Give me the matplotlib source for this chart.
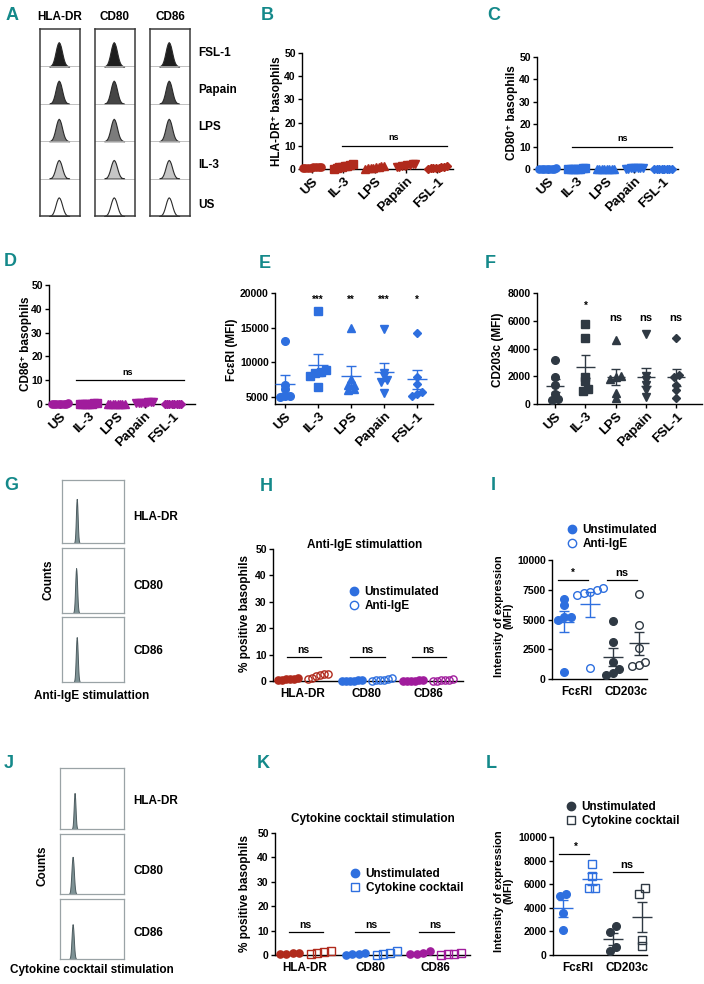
import numpy as np
import matplotlib
matplotlib.use('Agg')
import matplotlib.pyplot as plt
from matplotlib.lines import Line2D

plt.rcParams['font.family'] = ['Liberation Sans', 'DejaVu Sans']
plt.rcParams['font.weight'] = 'bold'
plt.rcParams['axes.labelweight'] = 'bold'
plt.rcParams['axes.linewidth'] = 1.0
plt.rcParams['xtick.major.size'] = 3
plt.rcParams['ytick.major.size'] = 3
plt.rcParams['xtick.major.pad'] = 1.5
plt.rcParams['ytick.major.pad'] = 1.5

W, H = 704, 984
RED = '#b02a1c'
BLUE = '#2e6fdf'
MAG = '#a01c9c'
DARK = '#2f3943'
TEAL = '#14898a'

# ---- data ----
conditions = ['US', 'IL-3', 'LPS', 'Papain', 'FSL-1']
cond_markers = ['o', 's', '^', 'v', 'D']

# panel A histograms (rows top to bottom)
hist_rows = ['FSL-1', 'Papain', 'LPS', 'IL-3', 'US']
hist_fill = ['#1e1e1e', '#454545', '#7b7b7b', '#c6c6c6', '#ffffff']
hist_height = [0.65, 0.62, 0.60, 0.50, 0.50]
hist_cols = ['HLA-DR', 'CD80', 'CD86']
peak_profile = [0, 2, 5, 11, 22, 38, 58, 78, 93, 100, 95, 82, 63, 43, 26, 14, 7, 3, 1, 0]

# B, C, D: % positive basophils
hladr_pct = [[0.3, 0.5, 0.6, 0.8, 1.0, 0.7, 0.4, 0.9],
             [0.2, 0.5, 0.9, 1.3, 1.8, 2.0, 1.1, 0.7],
             [0.1, 0.3, 0.6, 1.0, 1.5, 0.8, 0.4, 1.2],
             [0.8, 1.2, 1.6, 2.0, 2.3, 1.5, 1.0, 1.9],
             [0.2, 0.4, 0.6, 0.9, 1.1, 0.7, 0.5, 0.3]]
cd80_pct = [[0.0, 0.1, 0.2, 0.05, 0.3, 0.1, 0.0, 0.15],
            [0.0, 0.1, 0.3, 0.2, 0.4, 0.1, 0.0, 0.2],
            [0.0, 0.05, 0.1, 0.2, 0.0, 0.1, 0.05, 0.15],
            [0.2, 0.3, 0.4, 0.3, 0.5, 0.2, 0.4, 0.3],
            [0.0, 0.1, 0.2, 0.1, 0.0, 0.2, 0.1, 0.05]]
cd86_pct = [[0.0, 0.1, 0.2, 0.1, 0.3, 0.0, 0.2, 0.1],
            [0.0, 0.1, 0.3, 0.2, 0.4, 0.1, 0.2, 0.0],
            [0.0, 0.05, 0.1, 0.2, 0.0, 0.1, 0.05, 0.15],
            [0.4, 0.6, 0.7, 0.5, 0.8, 0.6, 0.7, 0.5],
            [0.0, 0.1, 0.2, 0.1, 0.0, 0.2, 0.1, 0.05]]

# E, F: MFI
fceri_mfi = [[13100, 6700, 6200, 5100, 4950, 5100],
             [17400, 8900, 8600, 8400, 8100, 6450],
             [15000, 7600, 6800, 6750, 6000, 6200],
             [14800, 8500, 8000, 7500, 7200, 5600],
             [14200, 7900, 6900, 5700, 5500, 5150]]
fceri_sig = ['***', '**', '***', '*']
cd203c_mfi = [[3180, 1975, 1370, 720, 340, 290],
              [5780, 4750, 1950, 1650, 950, 1050],
              [4580, 2000, 1950, 1820, 820, 400],
              [5040, 2000, 1700, 1340, 1010, 480],
              [4750, 2100, 1950, 1370, 1010, 410]]
cd203c_sig = ['*', 'ns', 'ns', 'ns']

# G, J histograms
stim_markers = ['HLA-DR', 'CD80', 'CD86']
g_peak_pos = [0.24, 0.23, 0.24]
g_peak_h = [0.70, 0.69, 0.69]
g_peak_w = [0.045, 0.05, 0.05]
j_peak_pos = [0.23, 0.20, 0.20]
j_peak_h = [0.59, 0.62, 0.58]
j_peak_w = [0.045, 0.06, 0.055]

# H: anti-IgE, % positive
pair_colors = [RED, BLUE, MAG]
ige_unstim = [[0.3, 0.6, 0.8, 1.0, 0.5, 0.7],
              [0.0, 0.1, 0.2, 0.1, 0.0, 0.3],
              [0.0, 0.1, 0.2, 0.0, 0.1, 0.2]]
ige_stim = [[2.5, 2.8, 1.9, 1.2, 0.6, 2.2],
            [0.0, 0.3, 0.6, 1.0, 0.2, 0.4],
            [0.0, 0.3, 0.5, 0.7, 0.2, 0.1]]

# I: anti-IgE, MFI
expr_labels = ['FcεRI', 'CD203c']
expr_colors = [BLUE, DARK]
ige_mfi_unstim = [[6720, 6220, 5240, 5200, 4950, 620],
                  [4900, 3140, 1460, 810, 530, 340]]
ige_mfi_stim = [[7620, 7480, 7200, 7340, 7060, 900],
                [7120, 4540, 2580, 1460, 1180, 1090]]
ige_mfi_sig = ['*', 'ns']

# K: cytokine cocktail, % positive
cyt_unstim = [[0.6, 1.0, 0.8, 0.5],
              [0.3, 0.8, 0.2, 0.5],
              [0.5, 1.6, 0.3, 0.8]]
cyt_stim = [[0.5, 1.0, 1.8, 1.4],
            [0.2, 1.0, 0.6, 1.5],
            [0.3, 0.9, 0.1, 0.6]]

# L: cytokine cocktail, MFI
cyt_mfi_unstim = [[5030, 5200, 3560, 2090],
                  [2430, 1980, 680, 310]]
cyt_mfi_stim = [[7740, 6720, 5680, 5680],
                [5680, 5200, 1240, 730]]

fig = plt.figure(figsize=(W / 100, H / 100), dpi=100)


def px_axes(x0, y0, x1, y1):
    return fig.add_axes([x0 / W, 1 - y1 / H, (x1 - x0) / W, (y1 - y0) / H])


def ftext(x, y, s, **kw):
    return fig.text(x / W, 1 - y / H, s, **kw)


def panel_label(x, y, s):
    ftext(x, y, s, color=TEAL, fontsize=13, ha='center', va='center')


def swarm(vals, step, tol):
    vals = np.asarray(vals, float)
    order = np.argsort(vals)
    offs = np.zeros(len(vals))
    groups, cur = [], [order[0]]
    for i in order[1:]:
        if vals[i] - vals[cur[-1]] < tol:
            cur.append(i)
        else:
            groups.append(cur)
            cur = [i]
    groups.append(cur)
    for g in groups:
        k = len(g)
        offs[g] = (np.arange(k) - (k - 1) / 2) * step
    return offs


def mean_sem(ax, x, vals, color, half=0.3, cap=0.15, lw=1.0):
    v = np.asarray(vals, float)
    m = v.mean()
    s = v.std(ddof=1) / np.sqrt(len(v))
    kw = dict(color=color, lw=lw, clip_on=False, zorder=4)
    ax.hlines(m, x - half, x + half, **kw)
    ax.vlines(x, m - s, m + s, **kw)
    ax.hlines([m - s, m + s], x - cap, x + cap, **kw)


def style(ax):
    for s in ['top', 'right']:
        ax.spines[s].set_visible(False)
    ax.tick_params(labelsize=7.5, width=1, length=3)


def cond_panel(box, data, color, ylim, yticks, xlim, step, tol, ms):
    ax = px_axes(*box)
    for i, (vals, mk) in enumerate(zip(data, cond_markers)):
        off = swarm(vals, step, tol)
        ax.plot(i + off, vals, ls='none', marker=mk, color=color,
                ms=ms * (0.8 if mk == 'D' else 1), clip_on=False, zorder=3)
        mean_sem(ax, i, vals, color)
    ax.set_xlim(xlim)
    ax.set_ylim(ylim)
    ax.set_yticks(yticks)
    ax.set_xticks(range(len(conditions)))
    ax.set_xticklabels(conditions, rotation=45, ha='right',
                       rotation_mode='anchor', fontsize=9.5)
    style(ax)
    ax.tick_params(axis='x', labelsize=9.5)
    return ax


def flow_box(box, pos, h, w):
    ax = px_axes(*box)
    xs = pos + np.linspace(-w, w, len(peak_profile))
    ys = h * np.array(peak_profile) / 100
    ax.fill_between(xs, 0, ys, color='#7f9396', ec='#4d5c60', lw=0.7)
    ax.set_xlim(0, 1)
    ax.set_ylim(0, 1)
    ax.set_xticks([])
    ax.set_yticks([])
    for s in ax.spines.values():
        s.set_color('#9aa3a6')
        s.set_linewidth(0.9)


def pair_panel(box, centers, off, un, st, colors, open_mk, xlim, step, tol, ms):
    ax = px_axes(*box)
    for c, u, s, col in zip(centers, un, st, colors):
        ax.plot(c - off + swarm(u, step, tol), u, ls='none', marker='o',
                color=col, ms=ms, clip_on=False, zorder=3)
        ax.plot(c + off + swarm(s, step, tol), s, ls='none', marker=open_mk,
                mfc='none', mec=col, mew=1.0, ms=ms, clip_on=False, zorder=3)
    ax.set_xlim(xlim)
    style(ax)
    ax.tick_params(axis='x', length=0, labelsize=8.5, pad=5)
    ax.set_xticks(centers)
    return ax


# ---- A ----
panel_label(12, 15, 'A')
col_boxes = [(40, 80), (95, 135), (150, 190)]
for name, (x0, x1) in zip(hist_cols, col_boxes):
    ax = px_axes(x0, 29, x1, 216)
    for i, (fc, hh) in enumerate(zip(hist_fill, hist_height)):
        base = 4 - i
        xs = 0.47 + np.linspace(-0.24, 0.26, len(peak_profile))
        ys = base + hh * np.array(peak_profile) / 100
        ax.fill_between(xs, base, ys, color=fc, ec='#2a2a2a', lw=0.8)
        if i < 4:
            ax.axhline(base, color='#b5b5b5', lw=0.6)
    ax.set_xlim(0, 1)
    ax.set_ylim(0, 5)
    ax.set_xticks([])
    ax.set_yticks([])
    for s in ax.spines.values():
        s.set_color('#3a3a3a')
        s.set_linewidth(1.1)
    ftext((x0 + x1) / 2, 17, name, fontsize=8.5, ha='center', va='center')
for name, y in zip(hist_rows, [53, 90, 127, 165, 205]):
    ftext(198, y, name, fontsize=8.5, ha='left', va='center')

# ---- B ----
panel_label(267, 16, 'B')
ax = cond_panel((302, 53, 453, 169), hladr_pct, RED, (0, 50), range(0, 51, 10),
                (-0.32, 4.5), 0.085, 5, 5.2)
ax.plot([0.95, 4.3], [10, 10], color='k', lw=0.9)
ax.text(2.6, 11.5, 'ns', fontsize=6.5, ha='center', va='bottom')
ftext(277, 111, 'HLA-DR⁺ basophils', rotation=90, fontsize=8.5, ha='center', va='center')

# ---- C ----
panel_label(494, 16, 'C')
ax = cond_panel((537, 57, 678, 169), cd80_pct, BLUE, (0, 50), range(0, 51, 10),
                (-0.38, 4.52), 0.085, 5, 5.2)
ax.plot([0.85, 4.3], [10, 10], color='k', lw=0.9)
ax.text(2.6, 11.5, 'ns', fontsize=6.5, ha='center', va='bottom')
ftext(512, 113, 'CD80⁺ basophils', rotation=90, fontsize=8.5, ha='center', va='center')

# ---- D ----
panel_label(10, 262, 'D')
ax = cond_panel((49, 285, 195, 404), cd86_pct, MAG, (0, 50), range(0, 51, 10),
                (-0.39, 4.78), 0.085, 5, 5.2)
ax.plot([0.55, 4.4], [10, 10], color='k', lw=0.9)
ax.text(2.4, 11.5, 'ns', fontsize=6.5, ha='center', va='bottom')
ftext(26, 344, 'CD86⁺ basophils', rotation=90, fontsize=8.5, ha='center', va='center')

# ---- E ----
panel_label(265, 264, 'E')
ax = cond_panel((275, 293, 433, 404), fceri_mfi, BLUE, (4000, 20000),
                [5000, 10000, 15000, 20000], (-0.3, 4.48), 0.16, 450, 5.5)
for i, s in enumerate(fceri_sig):
    ax.text(i + 1, 19000, s, fontsize=7, ha='center', va='center')
ftext(232, 350, 'FcεRI (MFI)', rotation=90, fontsize=8.5, ha='center', va='center')

# ---- F ----
panel_label(490, 264, 'F')
ax = cond_panel((537, 293, 702, 404), cd203c_mfi, DARK, (0, 8000),
                range(0, 8001, 2000), (-0.6, 4.85), 0.18, 250, 5.5)
for i, s in enumerate(cd203c_sig):
    ax.text(i + 1, 7050 if s == '*' else 6200, s, fontsize=7 if s == '*' else 8,
            ha='center', va='center')
ftext(498, 350, 'CD203c (MFI)', rotation=90, fontsize=8.5, ha='center', va='center')

# ---- G ----
panel_label(11, 485, 'G')
g_boxes = [(62, 480, 124, 543), (62, 548, 124, 613), (62, 617, 124, 682)]
for b, p, h, w in zip(g_boxes, g_peak_pos, g_peak_h, g_peak_w):
    flow_box(b, p, h, w)
for name, y in zip(stim_markers, [517, 586, 651]):
    ftext(133, y, name, fontsize=8.5, ha='left', va='center')
ftext(48, 580, 'Counts', rotation=90, fontsize=8.5, ha='center', va='center')
ftext(34, 696, 'Anti-IgE stimulattion', fontsize=8.5, ha='left', va='center')

# ---- H ----
panel_label(266, 487, 'H')
ax = pair_panel((273, 549, 463, 681), [1.0, 3.13, 5.17], 0.5, ige_unstim, ige_stim,
                pair_colors, 'o', (0, 6.33), 0.13, 5, 5.2)
ax.set_ylim(0, 50)
ax.set_yticks(range(0, 51, 10))
ax.set_xticklabels(stim_markers)
for c in [1.0, 3.13, 5.17]:
    ax.plot([c - 0.55, c + 0.6], [9, 9], color='k', lw=0.9)
    ax.text(c, 10, 'ns', fontsize=7.5, ha='center', va='bottom')
ftext(365, 545, 'Anti-IgE stimulattion', fontsize=8.5, ha='center', va='center')
ftext(245, 613, '% positive basophils', rotation=90, fontsize=8.5, ha='center', va='center')
hnd = [Line2D([], [], ls='none', marker='o', color=BLUE, ms=6),
       Line2D([], [], ls='none', marker='o', mfc='none', mec=BLUE, mew=1, ms=6)]
ax.legend(hnd, ['Unstimulated', 'Anti-IgE'], loc='upper left',
          bbox_to_anchor=(348 / W, 1 - 586 / H), bbox_transform=fig.transFigure,
          frameon=False, fontsize=8.5, handlelength=1.0, handletextpad=0.4,
          borderpad=0, borderaxespad=0, labelspacing=0.15)

# ---- I ----
panel_label(493, 485, 'I')
ax = pair_panel((552, 560, 647, 679), [1.0, 2.95], 0.52, ige_mfi_unstim, ige_mfi_stim,
                expr_colors, 'o', (0, 3.8), 0.26, 500, 5.5)
ax.set_ylim(0, 10000)
ax.set_yticks([0, 2500, 5000, 7500, 10000])
ax.set_xticklabels(expr_labels)
for c, u, s, col in zip([1.0, 2.95], ige_mfi_unstim, ige_mfi_stim, expr_colors):
    mean_sem(ax, c - 0.52, u, col, half=0.4, cap=0.2)
    mean_sem(ax, c + 0.52, s, col, half=0.4, cap=0.2)
for c, s in zip([1.0, 2.95], ige_mfi_sig):
    ax.plot([c - 0.75, c + 0.45], [8300, 8300], color='k', lw=0.9)
    ax.text(c - 0.15, 8500, s, fontsize=7 if s == '*' else 8, ha='center', va='bottom')
ftext(504, 616, 'Intensity of expression\n(MFI)', rotation=90, fontsize=8,
      ha='center', va='center', multialignment='center', linespacing=0.95)
hnd = [Line2D([], [], ls='none', marker='o', color=BLUE, ms=6),
       Line2D([], [], ls='none', marker='o', mfc='none', mec=BLUE, mew=1, ms=6)]
ax.legend(hnd, ['Unstimulated', 'Anti-IgE'], loc='upper left',
          bbox_to_anchor=(566 / W, 1 - 524 / H), bbox_transform=fig.transFigure,
          frameon=False, fontsize=8.5, handlelength=1.0, handletextpad=0.4,
          borderpad=0, borderaxespad=0, labelspacing=0.15)

# ---- J ----
panel_label(9, 763, 'J')
j_boxes = [(60, 768, 124, 829), (60, 834, 124, 894), (60, 899, 124, 959)]
for b, p, h, w in zip(j_boxes, j_peak_pos, j_peak_h, j_peak_w):
    flow_box(b, p, h, w)
for name, y in zip(stim_markers, [801, 871, 933]):
    ftext(133, y, name, fontsize=8.5, ha='left', va='center')
ftext(43, 866, 'Counts', rotation=90, fontsize=8.5, ha='center', va='center')
ftext(10, 970, 'Cytokine cocktail stimulation', fontsize=8.5, ha='left', va='center')

# ---- K ----
panel_label(263, 764, 'K')
ax = pair_panel((275, 833, 470, 955), [1.0, 3.2, 5.35], 0.52, cyt_unstim, cyt_stim,
                pair_colors, 's', (0, 6.5), 0.22, 5, 5.2)
ax.set_ylim(0, 50)
ax.set_yticks(range(0, 51, 10))
ax.set_xticklabels(stim_markers)
for c in [1.0, 3.2, 5.35]:
    ax.plot([c - 0.55, c + 0.6], [9.4, 9.4], color='k', lw=0.9)
    ax.text(c, 10.4, 'ns', fontsize=7.5, ha='center', va='bottom')
ftext(373, 819, 'Cytokine cocktail stimulation', fontsize=8.5, ha='center', va='center')
ftext(245, 893, '% positive basophils', rotation=90, fontsize=8.5, ha='center', va='center')
hnd = [Line2D([], [], ls='none', marker='o', color=BLUE, ms=6),
       Line2D([], [], ls='none', marker='s', mfc='none', mec=BLUE, mew=1, ms=6)]
ax.legend(hnd, ['Unstimulated', 'Cytokine cocktail'], loc='upper left',
          bbox_to_anchor=(349 / W, 1 - 868 / H), bbox_transform=fig.transFigure,
          frameon=False, fontsize=8.5, handlelength=1.0, handletextpad=0.4,
          borderpad=0, borderaxespad=0, labelspacing=0.15)

# ---- L ----
panel_label(491, 764, 'L')
ax = pair_panel((553, 837, 647, 955), [0.98, 2.98], 0.58, cyt_mfi_unstim, cyt_mfi_stim,
                expr_colors, 's', (0, 3.76), 0.26, 500, 5.5)
ax.set_ylim(0, 10000)
ax.set_yticks(range(0, 10001, 2000))
ax.set_xticklabels(expr_labels)
for c, u, s, col in zip([0.98, 2.98], cyt_mfi_unstim, cyt_mfi_stim, expr_colors):
    mean_sem(ax, c - 0.58, u, col, half=0.4, cap=0.2)
    mean_sem(ax, c + 0.58, s, col, half=0.4, cap=0.2)
ax.plot([0.24, 1.44], [8560, 8560], color='k', lw=0.9)
ax.text(0.9, 8760, '*', fontsize=7, ha='center', va='bottom')
ax.plot([2.4, 3.6], [7030, 7030], color='k', lw=0.9)
ax.text(2.95, 7230, 'ns', fontsize=8, ha='center', va='bottom')
ftext(504, 891, 'Intensity of expression\n(MFI)', rotation=90, fontsize=8,
      ha='center', va='center', multialignment='center', linespacing=0.95)
hnd = [Line2D([], [], ls='none', marker='o', color=DARK, ms=6),
       Line2D([], [], ls='none', marker='s', mfc='none', mec=DARK, mew=1, ms=6)]
ax.legend(hnd, ['Unstimulated', 'Cytokine cocktail'], loc='upper left',
          bbox_to_anchor=(565 / W, 1 - 801 / H), bbox_transform=fig.transFigure,
          frameon=False, fontsize=8.5, handlelength=1.0, handletextpad=0.4,
          borderpad=0, borderaxespad=0, labelspacing=0.15)

fig.savefig('out.png', dpi=100)
